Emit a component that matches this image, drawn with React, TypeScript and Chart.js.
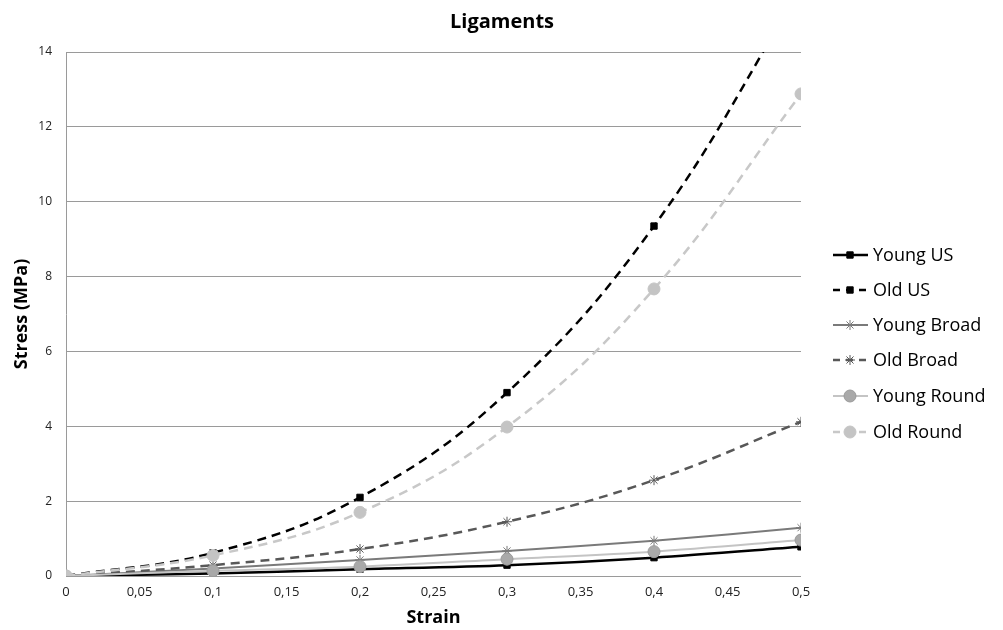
import React, { useEffect, useRef } from "react";
import { Chart, registerables } from "chart.js";
import { drawPoint } from "chart.js/helpers";

Chart.register(...registerables);

const strainValues = [0, 0.1, 0.2, 0.3, 0.4, 0.5];
const youngUS = [0, 0.07, 0.18, 0.29, 0.49, 0.78];
const oldUS = [0, 0.62, 2.1, 4.9, 9.35, 15.7];
const youngBroad = [0, 0.2, 0.43, 0.67, 0.94, 1.29];
const oldBroad = [0, 0.29, 0.72, 1.45, 2.56, 4.12];
const youngRound = [0, 0.14, 0.25, 0.45, 0.65, 0.96];
const oldRound = [0, 0.55, 1.7, 3.98, 7.67, 12.88];

const seriesNames = ["Young US", "Old US", "Young Broad", "Old Broad", "Young Round", "Old Round"];
const chartTitle = "Ligaments";
const xTitle = "Strain";
const yTitle = "Stress (MPa)";

const FONT = "'Open Sans', 'Noto Sans', sans-serif";

type Style = {
  line: string;
  width: number;
  dash: number[];
  pointStyle: string;
  radius: number;
  fill: string;
  border: string;
  tension: number;
};

const styles: Style[] = [
  { line: "#000000", width: 2.5, dash: [], pointStyle: "rect", radius: 4.5, fill: "#000000", border: "#000000", tension: 0.3 },
  { line: "#000000", width: 2.5, dash: [9, 6], pointStyle: "rect", radius: 4.5, fill: "#000000", border: "#000000", tension: 0.4 },
  { line: "#7a7a7a", width: 2, dash: [], pointStyle: "star", radius: 5, fill: "#7a7a7a", border: "#7a7a7a", tension: 0.3 },
  { line: "#585858", width: 2.5, dash: [9, 6], pointStyle: "star", radius: 5, fill: "#585858", border: "#585858", tension: 0.4 },
  { line: "#c4c4c4", width: 2, dash: [], pointStyle: "circle", radius: 6, fill: "#a9a9a9", border: "#9a9a9a", tension: 0.3 },
  { line: "#c8c8c8", width: 2.5, dash: [9, 6], pointStyle: "circle", radius: 6, fill: "#c4c4c4", border: "#c4c4c4", tension: 0.4 },
];

const seriesData = [youngUS, oldUS, youngBroad, oldBroad, youngRound, oldRound];

const fmtX = (v: number) => {
  const r = Math.round(v * 100) / 100;
  return String(r).replace(".", ",");
};

const overlayPlugin = {
  id: "overlay",
  afterDraw(chart: any) {
    const ctx: CanvasRenderingContext2D = chart.ctx;
    const area = chart.chartArea;
    ctx.save();
    ctx.fillStyle = "#000";
    ctx.textAlign = "center";
    ctx.textBaseline = "middle";
    ctx.font = `bold 20px ${FONT}`;
    ctx.fillText(chartTitle, 502, 22);
    ctx.font = `bold 18px ${FONT}`;
    ctx.fillText(xTitle, (area.left + area.right) / 2, 618);
    ctx.save();
    ctx.translate(22, (area.top + area.bottom) / 2);
    ctx.rotate(-Math.PI / 2);
    ctx.fillText(yTitle, 0, 0);
    ctx.restore();

    // legend
    const rowY = [255, 290, 325, 360, 396, 432];
    ctx.textAlign = "left";
    ctx.font = `18px ${FONT}`;
    styles.forEach((s, i) => {
      const y = rowY[i];
      ctx.save();
      ctx.strokeStyle = s.line;
      ctx.lineWidth = s.width;
      ctx.setLineDash(s.dash.length ? [7, 6] : []);
      ctx.beginPath();
      ctx.moveTo(833, y);
      ctx.lineTo(868, y);
      ctx.stroke();
      ctx.setLineDash([]);
      ctx.fillStyle = s.fill;
      ctx.strokeStyle = s.border;
      ctx.lineWidth = 1;
      drawPoint(ctx, { pointStyle: s.pointStyle as any, rotation: 0, radius: s.radius, borderWidth: 1 }, 850, y);
      ctx.restore();
      ctx.fillStyle = "#000";
      ctx.fillText(seriesNames[i], 873, y + 1);
    });
    ctx.restore();
  },
};

export default function App() {
  const ref = useRef<HTMLCanvasElement | null>(null);
  useEffect(() => {
    if (!ref.current) return;
    const datasets = seriesData.map((vals, i) => {
      const s = styles[i];
      return {
        label: seriesNames[i],
        data: vals.map((v, j) => ({ x: strainValues[j], y: v })),
        borderColor: s.line,
        borderWidth: s.width,
        borderDash: s.dash,
        pointStyle: s.pointStyle,
        pointRadius: s.radius,
        pointBackgroundColor: s.fill,
        pointBorderColor: s.border,
        pointBorderWidth: 1,
        tension: s.tension,
        fill: false,
        order: 6 - i,
      };
    });
    const chart = new Chart(ref.current, {
      type: "line",
      data: { datasets } as any,
      options: {
        responsive: false,
        animation: false,
        events: [],
        layout: { padding: { left: 0, top: 52, right: 202, bottom: 0 } },
        plugins: { legend: { display: false }, tooltip: { enabled: false }, title: { display: false } },
        scales: {
          x: {
            type: "linear",
            min: 0,
            max: 0.5,
            afterFit: (s: any) => {
              s.height = 54;
            },
            ticks: {
              stepSize: 0.05,
              callback: (v: any) => fmtX(Number(v)),
              color: "#222",
              font: { family: FONT, size: 13 },
              padding: 8,
              maxRotation: 0,
              autoSkip: false,
            },
            grid: { display: false, drawTicks: false },
            border: { display: false },
          },
          y: {
            type: "linear",
            min: 0,
            max: 14,
            afterFit: (s: any) => {
              s.width = 66;
            },
            ticks: {
              stepSize: 2,
              color: "#222",
              font: { family: FONT, size: 12 },
              padding: 14,
            },
            grid: { color: "#9a9a9a", lineWidth: 1, drawTicks: false },
            border: { display: true, color: "#9a9a9a", width: 1 },
          },
        },
      },
      plugins: [overlayPlugin],
    });
    return () => chart.destroy();
  }, []);
  return (
    <div style={{ position: "absolute", left: 0, top: 0, width: 1003, height: 630, background: "#fff" }}>
      <canvas ref={ref} width={1003} height={630} />
    </div>
  );
}
